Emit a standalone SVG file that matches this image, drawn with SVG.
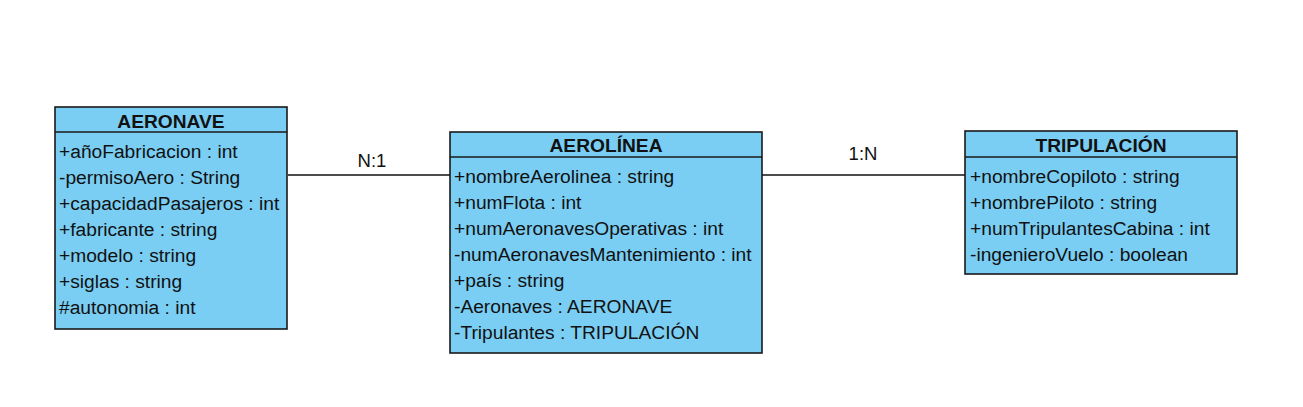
<svg xmlns="http://www.w3.org/2000/svg" width="1303" height="407" viewBox="0 0 1303 407">
<style>
.box{fill:#7ACEF4;stroke:#1a1a1a;stroke-width:1.6}
.div{stroke:#1a1a1a;stroke-width:1.6}
.t{font-family:"Liberation Sans",Arial,sans-serif;font-size:19.2px;fill:#111}
.h{font-family:"Liberation Sans",Arial,sans-serif;font-size:19.2px;font-weight:bold;fill:#111;text-anchor:middle}
.lbl{font-family:"Liberation Sans",Arial,sans-serif;font-size:18.5px;fill:#111;text-anchor:middle}
.conn{stroke:#111;stroke-width:1.6;fill:none}
</style>
<rect width="1303" height="407" fill="#ffffff"/>
<g id="connectors">
<line class="conn" x1="288" y1="175" x2="450" y2="175"/>
<line class="conn" x1="762" y1="175" x2="965" y2="175"/>
<text class="lbl" x="372" y="167">N:1</text>
<text class="lbl" x="863" y="160">1:N</text>
</g>
<g id="aeronave">
<rect class="box" x="55" y="107" width="232" height="222"/>
<line class="div" x1="55" y1="132" x2="287" y2="132"/>
<text class="h" x="171" y="128">AERONAVE</text>
<text class="t" x="59" y="158">+añoFabricacion : int</text>
<text class="t" x="59" y="184">-permisoAero : String</text>
<text class="t" x="59" y="210">+capacidadPasajeros : int</text>
<text class="t" x="59" y="236">+fabricante : string</text>
<text class="t" x="59" y="262">+modelo : string</text>
<text class="t" x="59" y="288">+siglas : string</text>
<text class="t" x="59" y="314">#autonomia : int</text>
</g>
<g id="aerolinea">
<rect class="box" x="450" y="132" width="312" height="221"/>
<line class="div" x1="450" y1="157" x2="762" y2="157"/>
<text class="h" x="606" y="152">AEROLÍNEA</text>
<text class="t" x="454" y="183">+nombreAerolinea : string</text>
<text class="t" x="454" y="209">+numFlota : int</text>
<text class="t" x="454" y="235">+numAeronavesOperativas : int</text>
<text class="t" x="454" y="261">-numAeronavesMantenimiento : int</text>
<text class="t" x="454" y="287">+país : string</text>
<text class="t" x="454" y="313">-Aeronaves : AERONAVE</text>
<text class="t" x="454" y="339">-Tripulantes : TRIPULACIÓN</text>
</g>
<g id="tripulacion">
<rect class="box" x="965" y="131" width="272" height="143"/>
<line class="div" x1="965" y1="157" x2="1237" y2="157"/>
<text class="h" x="1101" y="152">TRIPULACIÓN</text>
<text class="t" x="970" y="183">+nombreCopiloto : string</text>
<text class="t" x="970" y="209">+nombrePiloto : string</text>
<text class="t" x="970" y="235">+numTripulantesCabina : int</text>
<text class="t" x="970" y="261">-ingenieroVuelo : boolean</text>
</g>
</svg>
